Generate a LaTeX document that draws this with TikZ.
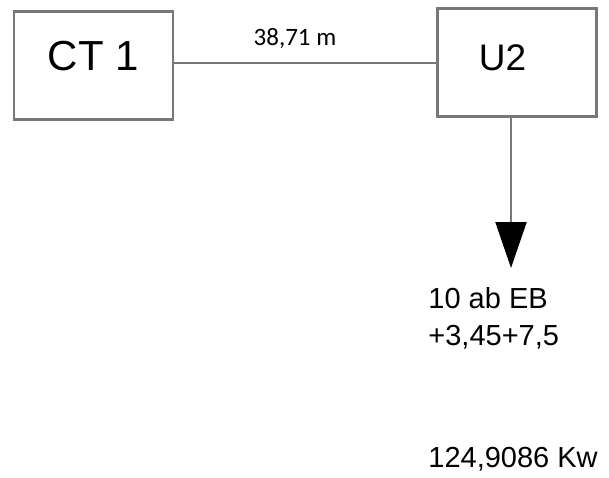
\documentclass[tikz,border=0pt]{standalone}
\usepackage{fontspec}
\setmainfont{Liberation Sans}
\newfontfamily\labelfont{Carlito}
\usetikzlibrary{positioning,arrows.meta}
\definecolor{linegray}{RGB}{120,120,120}

\begin{document}
\begin{tikzpicture}[x=0.5pt, y=-0.5pt,
				box/.style={rectangle, draw=linegray, line width=1.4pt, minimum width=79.5pt, minimum height=54pt, inner sep=0pt},
				wire/.style={draw=linegray, line width=1pt},
				note/.style={inner sep=0pt, anchor=base west, align=left, font=\fontsize{14.5}{18.5}\selectfont}]
				\useasboundingbox (0,0) rectangle (609,477);
				\node[box, font=\fontsize{21}{24}\selectfont, text depth=9.5pt] (ct1) at (93.5,65.5) {CT 1};
				\node[box, right=131pt of ct1, yshift=1.5pt, font=\fontsize{18.5}{22}\selectfont, text depth=4.5pt,
					inner xsep=20.5pt, text width=38.5pt, align=left] (u2) {U2};
				\coordinate (tip) at (511,268);
				\node[note] (load) at (428,345) {10 ab EB\\+3,45+7,5};
				\node[note] (power) at (428,467) {124,9086 Kw};
				
				\draw[wire] (u2.west -| ct1.east) -- node[pos=0.46, anchor=base, yshift=8.5pt, font=\labelfont\fontsize{12.5}{14}\selectfont] (dist) {38,71 m} (u2.west);
				\draw[wire, -{Triangle[width=15.5pt, length=23pt, color=black]}] (u2.south -| tip) -- (tip);
			\end{tikzpicture}
\end{document}
